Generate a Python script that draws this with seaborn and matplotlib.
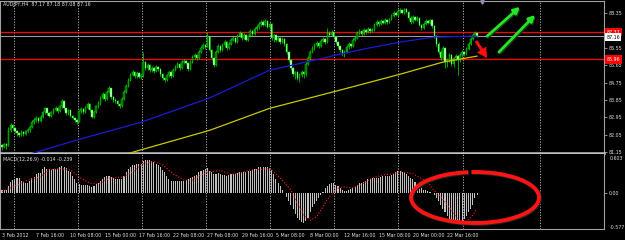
import matplotlib
matplotlib.use("Agg")
import matplotlib.pyplot as plt
import matplotlib.transforms as mtransforms
from matplotlib.patches import Arc, FancyArrow
import numpy as np
import pandas as pd
import seaborn as sns

# ---------------- data ----------------
title_text = "AUDJPY,H4  87.17 87.18 87.08 87.16"
macd_text = "MACD(12,26,9) -0.014 -0.239"

first_open = 81.50
close = [81.40,81.55,81.45,82.28,82.54,82.38,82.23,82.12,82.02,82.18,
         82.07,82.23,82.28,82.44,82.70,82.80,82.90,82.75,82.96,83.22,
         83.42,83.16,83.01,83.22,83.32,83.42,83.27,83.53,83.79,83.42,
         83.16,83.32,83.01,82.90,82.80,82.70,83.27,83.37,83.22,83.42,
         83.63,83.32,82.96,83.22,83.53,83.68,83.94,84.15,83.89,84.26,
         84.46,83.99,83.84,83.79,83.63,83.53,83.89,84.26,84.57,84.88,
         85.14,85.30,85.09,85.25,85.04,85.14,85.82,85.50,85.66,85.40,
         85.50,85.35,85.56,85.45,85.19,84.98,84.88,85.14,85.30,85.09,
         85.40,85.56,85.71,85.50,85.82,85.87,85.76,85.45,85.82,86.08,
         86.18,86.02,86.34,86.54,86.70,86.60,87.17,86.44,86.02,85.66,
         86.34,86.65,86.44,86.70,86.86,86.54,86.75,86.96,87.06,86.86,
         87.17,87.32,87.06,87.22,86.96,87.17,87.43,87.27,87.53,87.64,
         87.79,87.90,87.74,87.95,87.64,87.79,87.06,87.22,86.96,87.06,
         86.86,87.01,86.75,86.34,85.92,85.50,85.19,85.30,84.98,85.14,
         85.30,85.19,85.71,86.02,86.34,86.54,86.70,86.80,86.65,86.91,
         87.01,86.86,87.32,87.22,87.38,87.12,86.86,86.65,86.44,86.23,
         86.34,86.60,86.75,86.65,86.96,87.06,87.32,87.43,87.27,87.48,
         87.38,87.53,87.43,87.48,87.74,87.90,87.79,87.95,87.84,88.00,
         87.90,88.05,88.21,88.36,88.26,88.47,88.52,88.36,88.57,88.42,
         88.10,87.90,88.16,88.00,88.10,87.74,87.58,87.79,87.95,87.84,
         88.00,87.69,87.17,86.75,86.34,86.02,86.54,85.82,85.92,86.18,
         85.71,86.02,86.12,85.92,86.18,86.34,86.23,86.49,86.75,87.01,
         87.22,87.32,87.16]
high = [81.55,81.62,81.60,82.45,82.65,82.60,82.45,82.30,82.20,82.28,
        82.25,82.32,82.38,82.55,82.80,82.92,83.00,82.95,83.05,83.30,
        83.50,83.45,83.25,83.30,83.42,83.55,83.48,83.62,83.92,83.82,
        83.45,83.40,83.35,83.10,82.98,82.85,83.35,83.48,83.42,83.52,
        83.75,83.68,83.35,83.30,83.62,83.78,84.05,84.25,84.20,84.38,
        84.58,84.50,84.05,83.95,83.85,83.70,84.00,84.35,84.68,85.00,
        85.25,85.42,85.35,85.38,85.32,85.22,86.34,85.90,85.78,85.72,
        85.62,85.58,85.68,85.62,85.50,85.25,85.05,85.22,85.38,85.35,
        85.50,85.66,85.82,85.78,85.94,85.98,85.95,85.80,85.92,86.20,
        86.30,86.25,86.45,86.65,86.80,86.78,87.38,87.20,86.50,86.10,
        86.45,86.78,86.72,86.80,86.98,86.90,86.85,87.08,87.20,87.12,
        87.28,87.45,87.38,87.32,87.28,87.25,87.55,87.50,87.62,87.75,
        87.90,88.00,87.98,88.05,87.98,87.88,87.85,87.30,87.28,87.15,
        87.10,87.10,87.05,86.80,86.40,86.00,85.55,85.38,85.35,85.25,
        85.40,85.35,85.82,86.12,86.45,86.65,86.80,86.92,86.88,87.00,
        87.12,87.08,87.58,87.42,87.48,87.42,87.18,86.92,86.72,86.50,
        86.45,86.70,86.85,86.82,87.05,87.18,87.42,87.52,87.48,87.58,
        87.52,87.62,87.60,87.58,87.85,88.00,87.95,88.05,88.02,88.10,
        88.05,88.12,88.32,88.48,88.42,88.58,88.62,88.56,88.65,88.62,
        88.48,88.20,88.25,88.22,88.20,88.15,87.82,87.88,88.05,88.00,
        88.08,88.05,87.75,87.25,86.85,86.45,86.65,86.60,86.05,86.28,
        86.22,86.10,86.25,86.20,86.30,86.45,86.42,86.58,86.85,87.12,
        87.35,87.42,87.38]
low = [81.25,81.35,81.30,81.45,82.20,82.30,82.15,82.00,81.95,81.98,
       82.00,82.05,82.15,82.20,82.38,82.62,82.72,82.68,82.70,82.92,
       83.15,83.10,82.95,82.98,83.15,83.28,83.20,83.25,83.45,83.35,
       83.08,83.10,82.95,82.85,82.72,82.62,82.70,83.20,83.15,83.20,
       83.38,83.25,82.90,82.92,83.18,83.45,83.62,83.90,83.82,83.85,
       84.20,83.92,83.75,83.70,83.55,83.45,83.50,83.85,84.20,84.52,
       84.85,85.08,85.00,85.02,84.98,84.92,85.05,85.40,85.42,85.30,
       85.32,85.28,85.30,85.38,85.10,84.90,84.80,84.85,85.05,85.00,
       85.05,85.35,85.50,85.42,85.45,85.72,85.70,85.38,85.42,85.78,
       85.98,85.95,85.98,86.28,86.48,86.52,86.60,86.35,85.95,85.55,
       85.62,86.28,86.35,86.40,86.62,86.45,86.48,86.70,86.90,86.80,
       86.82,87.10,86.98,87.00,86.90,86.92,87.12,87.20,87.22,87.45,
       87.55,87.70,87.68,87.70,87.58,87.55,86.95,86.88,86.88,86.90,
       86.78,86.80,86.68,86.25,85.82,85.42,85.10,84.95,84.88,84.78,
       85.05,85.00,85.12,85.65,85.95,86.28,86.45,86.60,86.55,86.60,
       86.85,86.78,86.82,87.12,87.15,87.05,86.78,86.55,86.35,86.12,
       86.08,86.28,86.50,86.55,86.60,86.90,87.00,87.25,87.20,87.22,
       87.30,87.32,87.35,87.38,87.42,87.68,87.70,87.72,87.78,87.78,
       87.82,87.85,87.98,88.15,88.20,88.22,88.38,88.30,88.32,88.35,
       88.02,87.82,87.85,87.95,87.95,87.68,87.50,87.52,87.72,87.78,
       87.80,87.60,87.08,86.65,86.25,85.92,85.98,85.50,85.55,85.85,
       85.60,85.58,85.95,85.14,85.85,86.10,86.15,86.20,86.45,86.70,
       86.95,87.15,87.10]

ma_blue_idx = [14, 36, 65, 97, 125, 144, 156, 171, 186, 202, 222]
ma_blue_val = [81.08, 81.81, 82.70, 83.96, 85.40, 85.87, 86.18, 86.54, 86.86, 87.12, 87.17]
ma_yel_idx = [59, 97, 125, 156, 186, 206, 222]
ma_yel_val = [81.08, 82.28, 83.42, 84.31, 85.19, 85.82, 86.13]

macd_hist = [0.05,0.05,0.06,0.12,0.18,0.21,0.23,0.24,0.24,0.19,
             0.18,0.17,0.17,0.19,0.24,0.26,0.30,0.32,0.32,0.38,
             0.41,0.39,0.38,0.37,0.38,0.38,0.39,0.41,0.43,0.41,
             0.40,0.36,0.33,0.27,0.22,0.17,0.15,0.14,0.14,0.13,
             0.14,0.12,0.10,0.11,0.15,0.17,0.19,0.22,0.26,0.27,
             0.28,0.26,0.24,0.23,0.22,0.22,0.23,0.27,0.33,0.38,
             0.41,0.44,0.45,0.46,0.46,0.47,0.51,0.53,0.53,0.52,
             0.51,0.49,0.47,0.45,0.42,0.37,0.33,0.28,0.23,0.20,
             0.19,0.19,0.20,0.19,0.20,0.20,0.21,0.22,0.24,0.26,
             0.28,0.29,0.33,0.35,0.37,0.38,0.40,0.36,0.33,0.30,
             0.31,0.32,0.30,0.29,0.29,0.28,0.29,0.30,0.31,0.31,
             0.32,0.33,0.33,0.33,0.34,0.35,0.36,0.37,0.38,0.39,
             0.41,0.42,0.42,0.42,0.41,0.40,0.37,0.30,0.23,0.17,
             0.11,0.06,0.01,-0.06,-0.12,-0.18,-0.25,-0.32,-0.38,-0.42,
             -0.45,-0.46,-0.44,-0.38,-0.30,-0.22,-0.17,-0.12,-0.07,-0.03,
             0.03,0.08,0.12,0.15,0.17,0.17,0.14,0.11,0.08,0.05,
             0.04,0.04,0.05,0.07,0.09,0.10,0.13,0.16,0.17,0.18,
             0.20,0.22,0.23,0.24,0.24,0.24,0.25,0.26,0.27,0.27,
             0.28,0.28,0.29,0.31,0.34,0.35,0.35,0.34,0.33,0.31,
             0.28,0.25,0.22,0.18,0.14,0.11,0.08,0.06,0.05,0.04,
             0.02,0.00,-0.03,-0.08,-0.12,-0.18,-0.24,-0.30,-0.36,-0.40,
             -0.43,-0.45,-0.46,-0.46,-0.45,-0.43,-0.40,-0.35,-0.30,-0.24,
             -0.18,-0.08,-0.02]

sig_idx = [0,5,12,18,22,27,32,36,41,46,50,57,61,66,71,75,80,85,89,94,
           97,102,107,111,116,121,125,128,131,135,138,141,144,147,150,153,157,159,164,169,
           173,178,183,186,192,199,201,205,208,211,214,217,220,222]
sig_val = [0.03,0.10,0.21,0.26,0.37,0.39,0.37,0.26,0.16,0.16,0.24,0.26,0.34,0.47,0.50,0.45,0.31,0.21,0.21,0.31,
           0.34,0.36,0.30,0.32,0.37,0.38,0.39,0.31,0.21,0.05,-0.16,-0.34,-0.42,-0.37,-0.21,-0.05,0.08,0.10,0.09,0.16,
           0.24,0.29,0.31,0.34,0.31,0.18,0.08,-0.05,-0.18,-0.31,-0.45,-0.45,-0.34,-0.24]

price_ticks = [88.35, 86.55, 85.65, 84.75, 83.85, 82.95, 82.05, 81.15]
hlines_red = [87.37, 85.96]
bid_line = 87.16
time_tick_idx = [0, 16, 32, 48, 64, 80, 96, 112, 128, 144, 160, 176, 192, 208]
time_tick_lbl = ["3 Feb 2012", "7 Feb 16:00", "10 Feb 08:00", "15 Feb 00:00", "17 Feb 16:00",
                 "22 Feb 08:00", "27 Feb 08:00", "29 Feb 16:00", "5 Mar 08:00", "8 Mar 00:00",
                 "12 Mar 16:00", "15 Mar 08:00", "20 Mar 00:00", "22 Mar 16:00"]

# ---------------- style ----------------
sns.set_style("dark", {"axes.facecolor": "black", "figure.facecolor": "black"})
plt.rcParams["font.family"] = ["DejaVu Sans"]
FS = 3.4
TXT = "#e0e0e0"
GRID = "#b0b0b0"

W, H = 625, 240
BAR = 2.14  # pixels per bar
fig = plt.figure(figsize=(W / 100, H / 100), dpi=100, facecolor="black")


def px_axes(x0, y0, x1, y1, **kw):
    return fig.add_axes([x0 / W, 1 - y1 / H, (x1 - x0) / W, (y1 - y0) / H], **kw)


def px_to_bar(x):
    return (x - 2) / BAR


ax1 = px_axes(0, 1, 604, 152.5)
ax2 = px_axes(0, 154, 604, 229)
xlim = (px_to_bar(0), px_to_bar(604))
for ax in (ax1, ax2):
    ax.set_facecolor("black")
    ax.set_xlim(*xlim)
    ax.grid(False)
    for sp in ax.spines.values():
        sp.set_color("#a0a0a0")
        sp.set_linewidth(0.8)
    for gx in [14, 78, 142, 206, 270, 334, 398, 463, 540]:
        ax.axvline(px_to_bar(gx), color=GRID, lw=0.7, ls=(0, (1.2, 1.6)), zorder=1)

ax1.spines["bottom"].set_linewidth(1.8)
ax1.spines["bottom"].set_color("#c0c0c0")
ax2.spines["top"].set_visible(False)

# ---------------- price panel ----------------
ax1.set_ylim(81.13, 88.99)
df = pd.DataFrame({"i": np.arange(len(close)), "close": close, "high": high, "low": low})
df["open"] = [first_open] + close[:-1]
up = df["close"] >= df["open"]
wick_lo = np.minimum(df["low"], np.minimum(df["open"], df["close"]))
wick_hi = np.maximum(df["high"], np.maximum(df["open"], df["close"]))
ax1.vlines(df["i"], wick_lo, wick_hi, color="#00e600", lw=0.5, zorder=3)
body_lo = np.minimum(df["open"], df["close"])
body_h = np.maximum(np.abs(df["close"] - df["open"]), 0.03)
face = np.where(up, "#006a00", "#d0ffd0")
ax1.bar(df["i"], body_h, bottom=body_lo, width=0.7, color=face,
        edgecolor="#00e600", linewidth=0.3, zorder=4)

sns.lineplot(x=ma_blue_idx, y=ma_blue_val, color="#1a1ad8", lw=0.9, ax=ax1, zorder=5)
sns.lineplot(x=ma_yel_idx, y=ma_yel_val, color="#c8c800", lw=0.9, ax=ax1, zorder=5)

for hv in hlines_red:
    ax1.axhline(hv, color="#ff0000", lw=0.9, zorder=2)
ax1.axhline(bid_line, color="#a0a0a0", lw=0.7, zorder=2)

ax1.yaxis.tick_right()
ax1.set_yticks(price_ticks)
ax1.set_yticklabels([f"{v:.2f}" for v in price_ticks])
ax1.tick_params(axis="y", colors="#a0a0a0", labelcolor=TXT, labelsize=FS, length=2, width=0.6, pad=1.5)
ax1.set_xticks([])
ax1.set_xlabel("")
ax1.set_ylabel("")

bt = mtransforms.blended_transform_factory(ax1.transAxes, ax1.transData)
for hv in hlines_red:
    ax1.text(1.004, hv, f"{hv:.2f}", transform=bt, color="white", fontsize=FS, va="center", ha="left",
             bbox=dict(boxstyle="square,pad=0.35", fc="#ff0000", ec="none"), clip_on=False, zorder=6)
ax1.text(1.004, bid_line - 0.04, f"{bid_line:.2f}", transform=bt, color="black", fontsize=FS, va="center",
         ha="left", bbox=dict(boxstyle="square,pad=0.3", fc="white", ec="none"), clip_on=False, zorder=6)
ax1.text(0.005, 0.975, title_text, transform=ax1.transAxes, color=TXT, fontsize=FS, va="center", ha="left",
         zorder=7)

# ---------------- MACD panel ----------------
ax2.set_ylim(-0.56, 0.62)
sns.barplot(x=list(range(len(macd_hist))), y=macd_hist, native_scale=True, color="#c0c0c0",
            saturation=1, width=0.5, linewidth=0, errorbar=None, ax=ax2, zorder=3)
sns.lineplot(x=sig_idx, y=sig_val, color="#ff1a1a", lw=0.8, linestyle=(0, (1, 1.6)), ax=ax2, zorder=4)
ax2.set_xlim(*xlim)
ax2.yaxis.tick_right()
ax2.set_yticks([0.0])
ax2.set_yticklabels(["0.00"])
ax2.tick_params(axis="y", colors="#a0a0a0", labelcolor=TXT, labelsize=FS, length=2, width=0.6, pad=1.5)
ax2.text(1.01, 1 - 4.5 / 75, "0.603", transform=ax2.transAxes, color=TXT, fontsize=FS, va="center", ha="left")
ax2.text(1.01, 1.8 / 75, "-0.577", transform=ax2.transAxes, color=TXT, fontsize=FS, va="center", ha="left")
ax2.set_xticks(time_tick_idx)
ax2.set_xticklabels(time_tick_lbl, ha="left")
ax2.tick_params(axis="x", colors="#a0a0a0", labelcolor=TXT, labelsize=FS, length=2, width=0.6, pad=0.6)
ax2.set_xlabel("")
ax2.set_ylabel("")
ax2.text(0.005, 1 - 6 / 75, macd_text, transform=ax2.transAxes, color=TXT, fontsize=FS, va="center",
         ha="left", zorder=7)

# ---------------- annotations (pixel overlay) ----------------
ov = fig.add_axes([0, 0, 1, 1], zorder=10)
ov.set_xlim(0, W)
ov.set_ylim(H, 0)
ov.axis("off")
ov.patch.set_alpha(0)

ov.add_patch(Arc((476, 198.5), 128, 51, theta1=262, theta2=615, color="#202020", lw=2.8))
ov.add_patch(Arc((475, 197.5), 128, 51, theta1=262, theta2=615, color="#ff1414", lw=2.8))
for (x0, y0, x1, y1) in [(485, 38, 522, 5), (497, 54, 537, 13)]:
    ov.annotate("", xy=(x1 + 1, y1 + 1), xytext=(x0 + 1, y0 + 1),
                arrowprops=dict(arrowstyle="-|>,head_length=0.35,head_width=0.18", color="#1c3a1c", lw=2.2))
    ov.annotate("", xy=(x1, y1), xytext=(x0, y0),
                arrowprops=dict(arrowstyle="-|>,head_length=0.35,head_width=0.18", color="#22e822", lw=2.0))
ov.add_patch(FancyArrow(476, 41, 11, 17, width=3, head_width=11, head_length=10,
                        length_includes_head=True, color="#ff1010", lw=0))
ov.plot([482], [1.5], marker="v", ms=2.5, color="#9090b0", lw=0)

fig.savefig("out.png", dpi=100, facecolor="black")
